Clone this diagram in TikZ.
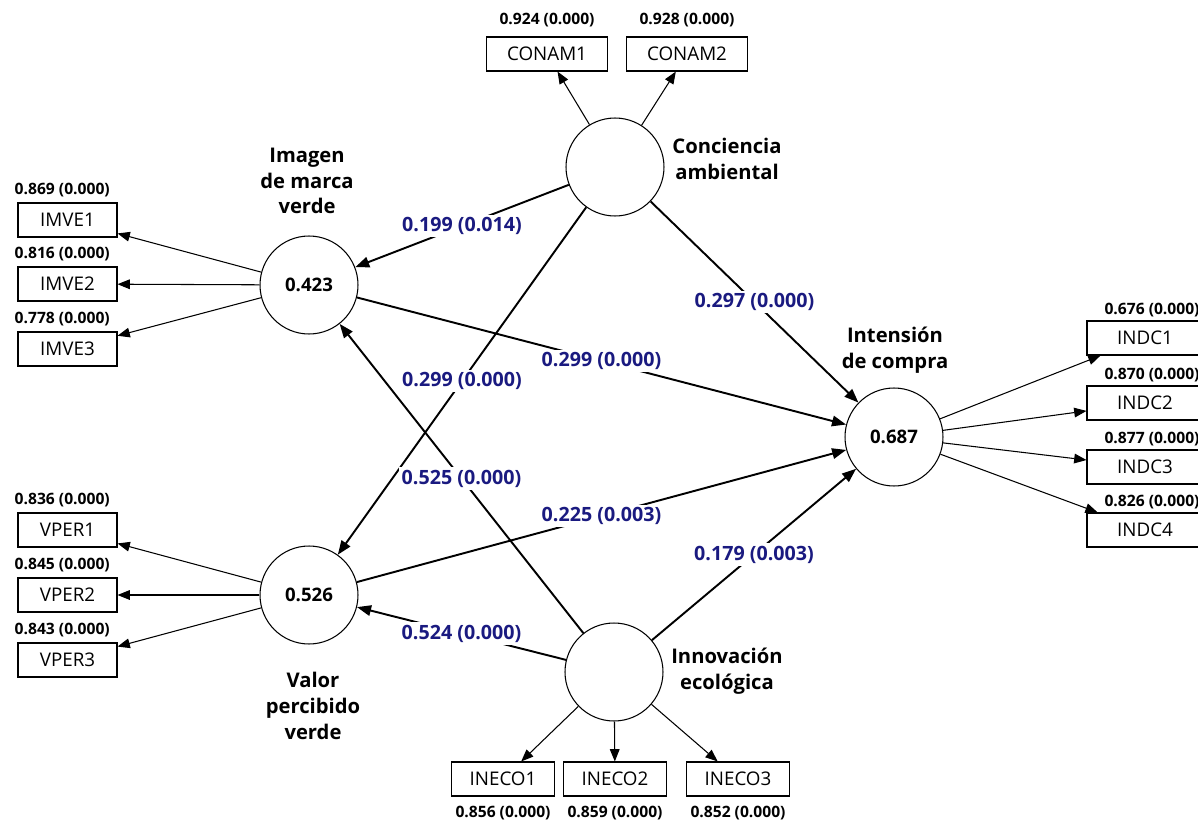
\documentclass[tikz,border=0pt]{standalone}
\usepackage{fontspec}
\setmainfont{Open Sans}
\usetikzlibrary{arrows.meta,positioning}
\definecolor{pathblue}{RGB}{26,26,128}

\begin{document}
\begin{tikzpicture}[x=0.02cm, y=-0.02cm,
  latent/.style={draw, circle, line width=0.6pt, minimum size=1.96cm, inner sep=0pt, font=\fontsize{10.6}{12}\selectfont\bfseries},
  indic/.style={draw, line width=0.6pt, minimum width=1.98cm, minimum height=0.68cm, inner sep=0pt, font=\fontsize{10.7}{12}\selectfont},
  cname/.style={align=center, font=\fontsize{11.5}{14.7}\selectfont\bfseries},
  load/.style={font=\fontsize{8.9}{10}\selectfont\bfseries, inner sep=1pt},
  coef/.style={font=\fontsize{11.2}{12}\selectfont\bfseries, text=pathblue, fill=white, inner sep=1.5pt},
  struct/.style={-{Triangle[length=8pt,width=6pt]}, line width=1.1pt},
  outer/.style={-{Triangle[length=7pt,width=5.5pt]}, line width=0.6pt}
]
\useasboundingbox (0,0) rectangle (1198,825);
\clip (0,0) rectangle (1198,825);

% constructs
\node[latent] (imve) at (309,285) {0.423};
\node[latent] (vper) at (309,595) {0.526};
\node[latent] (conam) at (615,167) {};
\node[latent] (ineco) at (614,672) {};
\node[latent] (indc) at (894,437) {0.687};

\node[cname] (nimve) at (307,181) {Imagen\\de marca\\verde};
\node[cname] (nconam) at (727,159) {Conciencia\\ambiental};
\node[cname] (nindc) at (895,350) {Intensión\\de compra};
\node[cname] (nvper) at (313,706) {Valor\\percibido\\verde};
\node[cname] (nineco) at (727,671) {Innovación\\ecológica};

% indicators
\node[indic] (imve1) at (67.5,220) {IMVE1};
\node[indic] (imve2) at (67.5,284) {IMVE2};
\node[indic] (imve3) at (67.5,349) {IMVE3};
\node[load, above=2pt of imve1, xshift=-3pt] (limve1) {0.869 (0.000)};
\node[load, above=2pt of imve2, xshift=-3pt] (limve2) {0.816 (0.000)};
\node[load, above=2pt of imve3, xshift=-3pt] (limve3) {0.778 (0.000)};

\node[indic] (vper1) at (67.5,530) {VPER1};
\node[indic] (vper2) at (67.5,595) {VPER2};
\node[indic] (vper3) at (67.5,660) {VPER3};
\node[load, above=2pt of vper1, xshift=-3pt] (lvper1) {0.836 (0.000)};
\node[load, above=2pt of vper2, xshift=-3pt] (lvper2) {0.845 (0.000)};
\node[load, above=2pt of vper3, xshift=-3pt] (lvper3) {0.843 (0.000)};

\node[indic, minimum width=2.42cm] (conam1) at (547,54) {CONAM1};
\node[indic, minimum width=2.42cm] (conam2) at (687,54) {CONAM2};
\node[load, above=4pt of conam1] (lconam1) {0.924 (0.000)};
\node[load, above=4pt of conam2] (lconam2) {0.928 (0.000)};

\node[indic, minimum width=2.06cm] (ineco1) at (503,779) {INECO1};
\node[indic, minimum width=2.06cm] (ineco2) at (615,779) {INECO2};
\node[indic, minimum width=2.06cm] (ineco3) at (738,779) {INECO3};
\node[load, below=4pt of ineco1] (lineco1) {0.856 (0.000)};
\node[load, below=4pt of ineco2] (lineco2) {0.859 (0.000)};
\node[load, below=4pt of ineco3] (lineco3) {0.852 (0.000)};

\node[indic, minimum width=2.32cm] (indc1) at (1145,338) {INDC1};
\node[indic, minimum width=2.32cm] (indc2) at (1145,403) {INDC2};
\node[indic, minimum width=2.32cm] (indc3) at (1145,467) {INDC3};
\node[indic, minimum width=2.32cm] (indc4) at (1145,530) {INDC4};
\node[load, above=1pt of indc1, xshift=4pt] (lindc1) {0.676 (0.000)};
\node[load, above=1pt of indc2, xshift=4pt] (lindc2) {0.870 (0.000)};
\node[load, above=1pt of indc3, xshift=4pt] (lindc3) {0.877 (0.000)};
\node[load, above=1pt of indc4, xshift=4pt] (lindc4) {0.826 (0.000)};

% loadings
\draw[outer] (imve) -- (imve1);
\draw[outer] (imve) -- (imve2);
\draw[outer] (imve) -- (imve3);
\draw[outer] (vper) -- (vper1);
\draw[outer] (vper) -- (vper2);
\draw[outer] (vper) -- (vper3);
\draw[outer] (conam) -- (conam1);
\draw[outer] (conam) -- (conam2);
\draw[outer] (ineco) -- (ineco1);
\draw[outer] (ineco) -- (ineco2);
\draw[outer] (ineco) -- (ineco3);
\draw[outer] (indc) -- (indc1);
\draw[outer] (indc) -- (indc2);
\draw[outer] (indc) -- (indc3);
\draw[outer] (indc) -- (indc4);

% structural paths
\draw[struct] (conam) -- node[coef] (p1) {0.199 (0.014)} (imve);
\draw[struct] (conam) -- node[coef] (p2) {0.297 (0.000)} (indc);
\draw[struct] (conam) -- node[coef] (p3) {0.299 (0.000)} (vper);
\draw[struct] (imve) -- node[coef] (p4) {0.299 (0.000)} (indc);
\draw[struct] (ineco) -- node[coef] (p5) {0.525 (0.000)} (imve);
\draw[struct] (vper) -- node[coef] (p6) {0.225 (0.003)} (indc);
\draw[struct] (ineco) -- node[coef] (p7) {0.179 (0.003)} (indc);
\draw[struct] (ineco) -- node[coef] (p8) {0.524 (0.000)} (vper);

\end{tikzpicture}
\end{document}
